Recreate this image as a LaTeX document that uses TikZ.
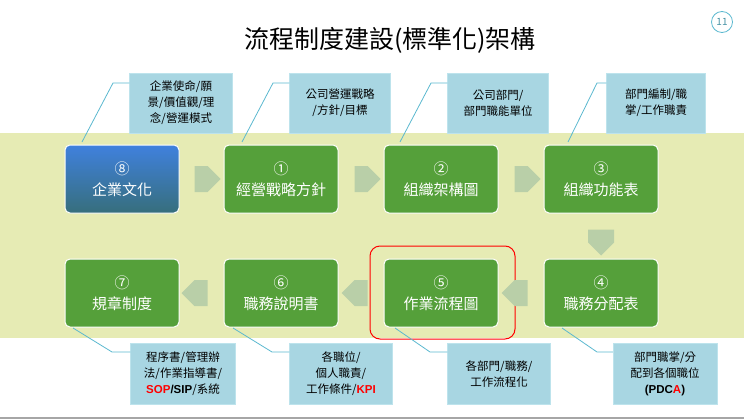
\documentclass[tikz,border=0pt]{standalone}
\usepackage{fontspec}
\setmainfont{Noto Sans CJK TC}
\newfontfamily\latin{Liberation Sans}
\usetikzlibrary{shapes.arrows}
\definecolor{band}{HTML}{E6EBB4}
\definecolor{stepgreen}{HTML}{55A03A}
\definecolor{noteblue}{HTML}{A8D6E2}
\definecolor{lineblue}{HTML}{5BB8CF}
\definecolor{flow}{HTML}{B9CFA8}
\tikzset{
  stepbox/.style={draw=white, line width=1pt, rounded corners=5pt, fill=stepgreen,
    minimum width=114pt, minimum height=68pt, text=white, align=center,
    font=\fontsize{15}{21}\selectfont},
  notebox/.style={draw=lineblue!40, fill=noteblue, align=center,
    font=\fontsize{11.5}{16}\selectfont, inner sep=2pt},
  flowarrow/.style={single arrow, fill=flow, minimum width=26pt,
    single arrow head extend=0pt, minimum height=26pt, inner sep=0pt},
  lead/.style={lineblue, line width=0.8pt}
}
\newcommand{\red}[1]{\textcolor{red}{\latin\bfseries #1}}
\begin{document}
\begin{tikzpicture}[x=1pt, y=-1pt]
  \useasboundingbox (0,0) rectangle (744,420);
  \fill[band] (0,133) rectangle (744,338);
  \draw[gray!70, line width=1.5pt] (0,418) -- (744,418);
  \node[font=\fontsize{25}{30}\selectfont] (title) at (390,40) {流程制度建設(標準化)架構};
  \node[draw=lineblue, line width=0.8pt, circle, minimum size=21pt, inner sep=0pt,
    text=lineblue!80!black, font=\fontsize{10}{12}\selectfont] (page) at (722,22) {11};
  % first row
  \node[stepbox, top color=lineblue!70!blue, bottom color=lineblue!60!black] (s8) at (122,179) {⑧\\企業文化};
  \node[stepbox] (s1) at (281,179) {①\\經營戰略方針};
  \node[stepbox] (s2) at (441,179) {②\\組織架構圖};
  \node[stepbox] (s3) at (601,179) {③\\組織功能表};
  % second row
  \node[stepbox] (s7) at (122,293) {⑦\\規章制度};
  \node[stepbox] (s6) at (281,293) {⑥\\職務說明書};
  \node[stepbox] (s5) at (441,293) {⑤\\作業流程圖};
  \node[stepbox] (s4) at (601,293) {④\\職務分配表};
  \draw[red, line width=1pt, rounded corners=10pt] (370,246) rectangle (515,339);
  % flow arrows
  \node[flowarrow] (a1) at (201,179) {};
  \node[flowarrow] (a2) at (361,179) {};
  \node[flowarrow] (a3) at (521,179) {};
  \node[flowarrow, rotate=-90] (a4) at (601,236) {};
  \node[flowarrow, rotate=180] (a5) at (521,293) {};
  \node[flowarrow, rotate=180] (a6) at (361,293) {};
  \node[flowarrow, rotate=180] (a7) at (201,293) {};
  % top notes
  \node[notebox, minimum width=103pt, minimum height=60pt] (n8) at (181,103) {企業使命/願\\景/價值觀/理\\念/營運模式};
  \node[notebox, minimum width=101pt, minimum height=60pt] (n1) at (340,103) {公司營運戰略\\/方針/目標};
  \node[notebox, minimum width=101pt, minimum height=60pt] (n2) at (498,103) {公司部門/\\部門職能單位};
  \node[notebox, minimum width=99pt, minimum height=60pt] (n3) at (656,103) {部門編制/職\\掌/工作職責};
  \coordinate (c8) at (82,142);  \coordinate (c1) at (242,142);
  \coordinate (c2) at (400,142); \coordinate (c3) at (568,142);
  \draw[lead] (c8) -- (113,83) -- (n8.west |- 0,83);
  \draw[lead] (c1) -- (273,83) -- (n1.west |- 0,83);
  \draw[lead] (c2) -- (431,83) -- (n2.west |- 0,83);
  \draw[lead] (c3) -- (597,83) -- (n3.west |- 0,83);
  % bottom notes
  \node[notebox, minimum width=105pt, minimum height=61pt] (n7) at (183,374) {程序書/管理辦\\法/作業指導書/\\\red{SOP}{\latin\bfseries/SIP}/系統};
  \node[notebox, minimum width=103pt, minimum height=61pt] (n6) at (341,374) {各職位/\\個人職責/\\工作條件/\red{KPI}};
  \node[notebox, minimum width=103pt, minimum height=61pt] (n5) at (499,374) {各部門/職務/\\工作流程化};
  \node[notebox, minimum width=104pt, minimum height=61pt] (n4) at (665,374) {部門職掌/分\\配到各個職位\\{\latin\bfseries(PDC\red{A})}};
  \coordinate (d7) at (73,328);  \coordinate (d6) at (233,328);
  \coordinate (d5) at (395,328); \coordinate (d4) at (562,328);
  \draw[lead] (d7) -- (112,352) -- (n7.west |- 0,352);
  \draw[lead] (d6) -- (272,352) -- (n6.west |- 0,352);
  \draw[lead] (d5) -- (430,352) -- (n5.west |- 0,352);
  \draw[lead] (d4) -- (597,352) -- (n4.west |- 0,352);
\end{tikzpicture}
\end{document}
